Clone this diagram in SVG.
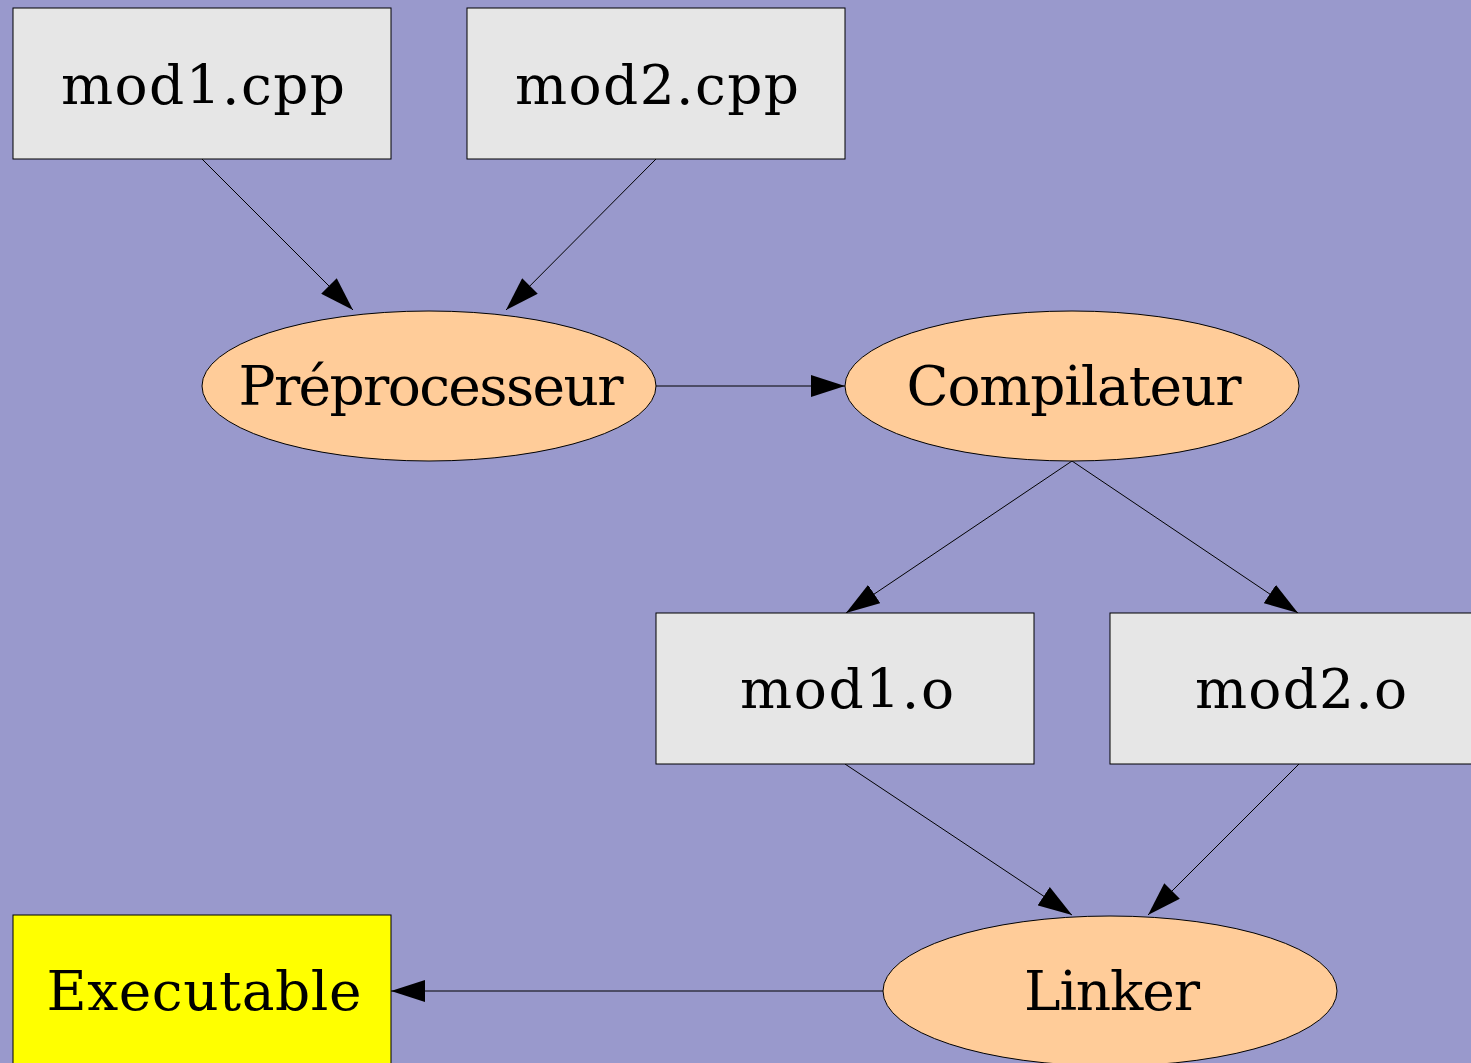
<svg xmlns="http://www.w3.org/2000/svg" width="1471" height="1063" viewBox="0 0 1471 1063">
<style>
.box{fill:#e6e6e6;stroke:#000;stroke-width:1}
.exe{fill:#ffff00;stroke:#000;stroke-width:1}
.proc{fill:#ffcc99;stroke:#000;stroke-width:1}
.lbl{font-family:"DejaVu Serif",serif;font-size:55px;fill:#000;text-anchor:middle}
.edge{stroke:#000;stroke-width:1;fill:none;marker-end:url(#arr)}
</style>
<defs>
<marker id="arr" markerUnits="userSpaceOnUse" markerWidth="34" markerHeight="22" refX="34" refY="11" orient="auto" viewBox="0 0 34 22">
<path d="M0,0 L34,11 L0,22 z" fill="#000"/>
</marker>
</defs>
<rect width="1471" height="1063" fill="#9999cc"/>
<g id="edges">
<line class="edge" x1="202" y1="159" x2="353" y2="310"/>
<line class="edge" x1="656" y1="159" x2="506" y2="310"/>
<line class="edge" x1="656" y1="386" x2="845" y2="386"/>
<line class="edge" x1="1072" y1="461" x2="846" y2="613"/>
<line class="edge" x1="1072" y1="461" x2="1298" y2="613"/>
<line class="edge" x1="845" y1="764" x2="1072" y2="915"/>
<line class="edge" x1="1299" y1="764" x2="1148" y2="915"/>
<line class="edge" x1="883" y1="991" x2="391" y2="991"/>
</g>
<g id="mod1cpp"><rect class="box" x="13" y="8" width="378" height="151"/><text class="lbl" x="203" y="104" textLength="284" lengthAdjust="spacing">mod1.cpp</text></g>
<g id="mod2cpp"><rect class="box" x="467" y="8" width="378" height="151"/><text class="lbl" x="657" y="104" textLength="284" lengthAdjust="spacing">mod2.cpp</text></g>
<g id="preproc"><ellipse class="proc" cx="429" cy="386" rx="227" ry="75"/><text class="lbl" x="431" y="405" textLength="385" lengthAdjust="spacing">Préprocesseur</text></g>
<g id="compil"><ellipse class="proc" cx="1072" cy="386" rx="227" ry="75"/><text class="lbl" x="1074" y="405" textLength="335" lengthAdjust="spacing">Compilateur</text></g>
<g id="mod1o"><rect class="box" x="656" y="613" width="378" height="151"/><text class="lbl" x="847" y="708" textLength="214" lengthAdjust="spacing">mod1.o</text></g>
<g id="mod2o"><rect class="box" x="1110" y="613" width="378" height="151"/><text class="lbl" x="1301" y="708" textLength="212" lengthAdjust="spacing">mod2.o</text></g>
<g id="linker"><ellipse class="proc" cx="1110" cy="991" rx="227" ry="75"/><text class="lbl" x="1112" y="1010" textLength="176" lengthAdjust="spacing">Linker</text></g>
<g id="exe"><rect class="exe" x="13" y="915" width="378" height="151"/><text class="lbl" x="204" y="1010" textLength="315" lengthAdjust="spacing">Executable</text></g>
</svg>
